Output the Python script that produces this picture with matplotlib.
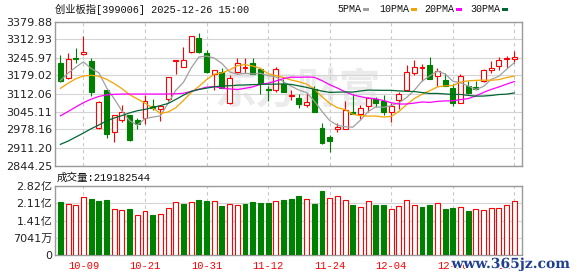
import matplotlib
matplotlib.use("Agg")
import matplotlib.pyplot as plt
import matplotlib.patheffects as pe
from matplotlib.patches import Rectangle

plt.rcParams['font.family'] = ['DejaVu Sans', 'Noto Sans CJK SC']

dates = ["09-26", "09-29", "09-30", "10-09", "10-10", "10-13", "10-14", "10-15", "10-16", "10-17",
         "10-20", "10-21", "10-22", "10-23", "10-24", "10-27", "10-28", "10-29", "10-30", "10-31",
         "11-03", "11-04", "11-05", "11-06", "11-07", "11-10", "11-11", "11-12", "11-13", "11-14",
         "11-17", "11-18", "11-19", "11-20", "11-21", "11-24", "11-25", "11-26", "11-27", "11-28",
         "12-01", "12-02", "12-03", "12-04", "12-05", "12-08", "12-09", "12-10", "12-11", "12-12",
         "12-15", "12-16", "12-17", "12-18", "12-19", "12-22", "12-23", "12-24", "12-25", "12-26"]
tick_dates = ["10-09", "10-21", "10-31", "11-12", "11-24", "12-04", "12-16", "12-26"]

opens = [3226.3, 3168.6, 3242.3, 3258.3, 3233.7, 2981.9, 3124.4, 2969.6, 3015.0, 3031.0,
         3013.8, 3021.2, 3064.2, 3055.6, 3091.2, 3232.5, 3210.3, 3268.1, 3318.5, 3263.2,
         3183.3, 3193.2, 3075.2, 3191.9, 3205.4, 3226.3, 3201.8, 3128.1, 3124.4, 3146.5,
         3103.5, 3093.7, 3070.3, 3128.1, 2984.3, 2949.9, 2978.2, 2980.6, 3044.5, 3035.9,
         3066.6, 3091.2, 3082.6, 3044.5, 3087.5, 3124.4, 3187.0, 3205.4, 3216.5, 3175.9,
         3161.2, 3134.2, 3076.5, 3140.3, 3136.7, 3158.8, 3200.5, 3214.0, 3241.1, 3238.6]
highs = [3254.6, 3263.2, 3281.6, 3327.1, 3242.3, 3082.5, 3125.5, 3032.0, 3070.3, 3032.0,
         3022.4, 3106.0, 3092.4, 3070.3, 3175.0, 3238.5, 3284.1, 3325.5, 3336.9, 3275.5,
         3200.5, 3205.4, 3180.9, 3244.8, 3244.8, 3242.3, 3207.9, 3140.3, 3211.6, 3167.4,
         3124.4, 3109.6, 3112.1, 3140.3, 3001.5, 2958.5, 3001.5, 3085.1, 3109.6, 3070.3,
         3099.8, 3097.4, 3107.2, 3075.2, 3119.5, 3217.7, 3236.1, 3222.7, 3248.4, 3207.9,
         3187.0, 3149.0, 3183.3, 3158.8, 3158.8, 3201.8, 3232.5, 3247.2, 3253.4, 3271.8]
lows = [3155.1, 3167.0, 3223.9, 3257.0, 3102.2, 2980.5, 2947.5, 2932.7, 3007.7, 2935.0,
        2979.4, 2997.9, 3051.9, 3010.1, 3085.0, 3183.3, 3209.5, 3261.9, 3264.4, 3189.5,
        3124.4, 3131.7, 3074.0, 3189.5, 3189.5, 3185.0, 3109.6, 3082.6, 3115.8, 3117.0,
        3087.5, 3058.0, 3063.0, 3042.0, 2925.0, 2896.0, 2968.4, 2978.2, 3035.0, 3017.5,
        3042.1, 3060.5, 3032.2, 3005.2, 3054.4, 3123.0, 3180.9, 3158.8, 3166.0, 3140.3,
        3140.0, 3065.4, 3075.0, 3111.0, 3124.4, 3156.3, 3189.5, 3198.1, 3205.4, 3226.3]
closes = [3158.8, 3239.8, 3238.6, 3266.9, 3119.5, 3081.4, 2962.2, 3031.0, 3042.1, 2937.7,
          2997.9, 3085.1, 3058.0, 3065.4, 3173.5, 3237.4, 3234.9, 3324.6, 3268.1, 3191.9,
          3199.3, 3134.2, 3168.6, 3223.9, 3211.6, 3185.8, 3146.5, 3124.4, 3201.8, 3118.3,
          3106.0, 3072.8, 3079.0, 3044.5, 2926.6, 2934.0, 2986.8, 3050.7, 3035.9, 3056.8,
          3093.7, 3075.2, 3042.1, 3066.6, 3109.6, 3191.9, 3210.3, 3210.3, 3167.4, 3195.6,
          3140.3, 3076.5, 3177.2, 3112.1, 3128.1, 3198.1, 3207.9, 3234.9, 3243.5, 3248.4]

ma5 = [3160, 3188, 3210, 3230, 3204.7, 3189.2, 3133.7, 3092.2, 3047.2, 3010.9,
       2994.2, 3018.8, 3024.2, 3028.8, 3076.0, 3123.9, 3153.8, 3207.2, 3247.7, 3251.4,
       3243.8, 3223.6, 3192.4, 3183.6, 3187.5, 3184.8, 3187.3, 3178.4, 3174.0, 3155.4,
       3139.4, 3124.7, 3115.6, 3084.1, 3045.7, 3011.3, 2994.1, 2988.4, 2986.7, 3012.8,
       3044.8, 3062.5, 3060.7, 3066.9, 3077.4, 3097.1, 3124.1, 3157.7, 3177.9, 3195.1,
       3184.8, 3158.0, 3151.4, 3140.3, 3126.8, 3138.4, 3164.7, 3176.2, 3202.5, 3226.6]
ma10 = [3131, 3150, 3167, 3177, 3180, 3176, 3165, 3149, 3130, 3107.8,
        3091.7, 3076.2, 3058.2, 3038.0, 3043.4, 3059.0, 3086.3, 3115.7, 3138.3, 3163.7,
        3183.8, 3188.7, 3199.8, 3215.6, 3219.5, 3214.3, 3205.5, 3185.4, 3178.8, 3171.4,
        3162.1, 3156.0, 3147.0, 3129.1, 3100.5, 3075.3, 3059.4, 3052.0, 3035.4, 3029.3,
        3028.0, 3028.3, 3024.6, 3026.8, 3045.1, 3070.9, 3093.3, 3109.2, 3122.4, 3136.3,
        3140.9, 3141.1, 3154.6, 3159.1, 3161.0, 3161.6, 3161.4, 3163.8, 3171.4, 3176.7]
ma20 = [3029, 3045, 3062, 3078, 3091, 3101, 3107, 3109, 3110, 3110,
        3110, 3110, 3110, 3110, 3110, 3111, 3113, 3120, 3128, 3135.7,
        3137.8, 3132.5, 3129.0, 3126.8, 3131.4, 3136.7, 3145.9, 3150.5, 3158.5, 3167.6,
        3173.0, 3172.4, 3173.4, 3172.4, 3160.0, 3144.8, 3132.4, 3118.7, 3107.1, 3100.3,
        3095.1, 3092.1, 3085.8, 3077.9, 3072.8, 3073.1, 3076.3, 3080.6, 3078.9, 3082.8,
        3084.5, 3084.7, 3089.6, 3093.0, 3103.1, 3116.3, 3127.3, 3136.5, 3146.9, 3156.5]
ma30 = [2923, 2935, 2950, 2965, 2981, 2995, 3010, 3021, 3030, 3040,
        3048, 3053, 3060, 3067, 3075, 3090, 3106, 3120, 3127, 3132,
        3137, 3140, 3141, 3143, 3144, 3145, 3146, 3146.5, 3147, 3147.6,
        3145.9, 3140.3, 3135.0, 3127.6, 3121.1, 3116.2, 3117.0, 3117.7, 3117.5, 3121.5,
        3124.7, 3124.3, 3123.8, 3123.8, 3121.7, 3120.2, 3119.4, 3115.6, 3112.2, 3112.3,
        3110.4, 3108.4, 3108.7, 3105.0, 3102.2, 3102.6, 3104.7, 3108.3, 3109.7, 3114.1]

# volume in 万 shares, colour by change against previous close
volumes = [21660, 20700, 20430, 23700, 23020, 22200, 22470, 18800, 18250, 18800,
           16210, 17980, 16340, 16620, 19200, 21520, 20840, 21520, 22470, 22060,
           21930, 20020, 20700, 20290, 20840, 21660, 21250, 21250, 21930, 22470,
           22880, 24110, 22880, 20840, 26150, 23290, 23970, 22340, 20430, 19610,
           21930, 20430, 20430, 18800, 20020, 22340, 20430, 19750, 20430, 21110,
           18800, 19200, 19610, 17980, 18800, 18250, 19200, 19200, 20430, 21918]
vol_up = [0, 1, 1, 1, 0, 0, 0, 1, 1, 0,
          1, 1, 0, 1, 1, 1, 0, 1, 0, 0,
          1, 0, 1, 1, 0, 0, 0, 0, 1, 0,
          0, 0, 1, 0, 0, 1, 1, 1, 0, 1,
          1, 0, 0, 1, 1, 1, 1, 0, 0, 1,
          0, 0, 1, 0, 1, 1, 1, 1, 1, 1]
last_volume = 219182544

price_ticks = [2844.25, 2911.20, 2978.16, 3045.11, 3112.06, 3179.02, 3245.97, 3312.93, 3379.88]
vol_ticks = [0, 7041, 14082, 21123, 28164]
vol_tick_labels = ["0", "7041万", "1.41亿", "2.11亿", "2.82亿"]

RED = "#ff0000"
GREEN = "#008000"
ma_colors = ["#a0a0a0", "#f5a300", "#ff00ff", "#006633"]
ma_names = ["5PMA", "10PMA", "20PMA", "30PMA"]
mono = ["Liberation Mono", "Noto Sans CJK SC"]

W, H = 578, 276
fig = plt.figure(figsize=(W / 100, H / 100), dpi=100)
ax = fig.add_axes([55 / W, 1 - 165.5 / H, 467 / W, 144 / H])
axv = fig.add_axes([55 / W, 1 - 255 / H, 467 / W, 69 / H])

n = len(closes)
xs = list(range(n))
bw = 0.64
tick_pos = [dates.index(d) for d in tick_dates]

# faint watermark behind the candles
ax.text(381 / W, 1 - 90 / H, "东方财富", transform=fig.transFigure, ha="right", va="center",
        fontsize=30, color="#ebebeb", fontweight="bold", zorder=0.5,
        family=["Noto Sans CJK SC"])

for i in xs:
    o, h, l, c = opens[i], highs[i], lows[i], closes[i]
    up = c >= o
    col = RED if up else GREEN
    ax.vlines(i, l, h, color=col, lw=0.8, zorder=2)
    bot = min(o, c)
    hgt = max(abs(c - o), 1.5)
    ax.add_patch(Rectangle((i - bw / 2, bot), bw, hgt, facecolor="white" if up else GREEN,
                           edgecolor=col, lw=0.8, zorder=3))

for vals, col in zip([ma5, ma10, ma20, ma30], ma_colors):
    ax.plot(xs, vals, color=col, lw=0.9, zorder=4)

for i in xs:
    col = RED if vol_up[i] else GREEN
    axv.add_patch(Rectangle((i - bw / 2, 0), bw, volumes[i],
                            facecolor="white" if vol_up[i] else GREEN,
                            edgecolor=col, lw=0.8, zorder=3))

ax.set_xlim(-0.7, 60.0)
ax.set_ylim(price_ticks[0], price_ticks[-1])
ax.set_yticks(price_ticks)
ax.set_yticklabels([f"{v:.2f}" for v in price_ticks])
axv.set_xlim(-0.7, 60.0)
axv.set_ylim(0, vol_ticks[-1])
axv.set_yticks(vol_ticks)
axv.set_yticklabels(vol_tick_labels)

for a in (ax, axv):
    a.set_xticks(tick_pos)
    a.grid(axis="y", color="#d4d4d4", lw=0.8, ls="-", zorder=1)
    a.grid(axis="x", color="#c8c8c8", lw=0.8, ls=(0, (3, 3)), zorder=1)
    a.set_axisbelow(True)
    a.tick_params(length=0, labelsize=8, pad=2, colors="#222222")
    for s in a.spines.values():
        s.set_color("#9a9a9a")
        s.set_linewidth(1)

ax.set_xticklabels([])
axv.set_xticklabels(tick_dates, color=RED, family=mono, fontsize=7.5)
axv.tick_params(axis="x", pad=4)

# header and legend
fig.text(55 / W, 1 - 9 / H, "创业板指[399006] 2025-12-26 15:00", ha="left", va="center",
         fontsize=7.4, family=mono, color="#111111")
fig.text(57 / W, 1 - 178 / H, f"成交量:{last_volume}", ha="left", va="center",
         fontsize=7.6, family=mono, color="#111111")

lx = [337, 379, 424, 470]
for x0, name, col in zip(lx, ma_names, ma_colors):
    fig.text(x0 / W, 1 - 9 / H, name, ha="left", va="center", fontsize=7.2,
             family=mono, color="#111111")
    mx = x0 + 6.0 * len(name) + 2
    fig.patches.append(Rectangle((mx / W, 1 - 11 / H), 6 / W, 3.5 / H, transform=fig.transFigure,
                                 facecolor=col, edgecolor="none"))

fig.text(570 / W, 1 - 264 / H, "www.365jz.com", ha="right", va="center", fontsize=10,
         family=["DejaVu Serif"], fontweight="bold", color="#1f3f8f",
         path_effects=[pe.withStroke(linewidth=2, foreground="white")])

fig.savefig("out.png", dpi=100)
